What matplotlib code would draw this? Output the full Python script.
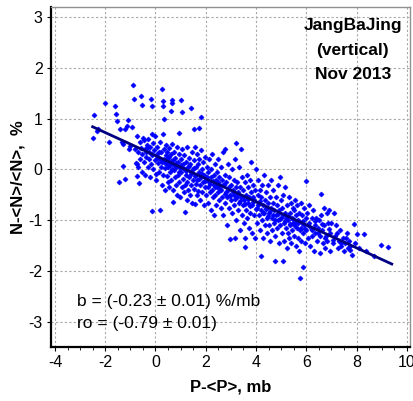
import matplotlib
matplotlib.use('Agg')
import matplotlib.pyplot as plt
from matplotlib.ticker import MultipleLocator

plt.rcParams['font.family'] = ['Liberation Sans', 'DejaVu Sans']
plt.rcParams['axes.unicode_minus'] = False

# scatter points (P-<P> in mb, N-<N>/<N> in %)
dp = [-2.50, -2.44, -2.34, -2.28, -2.01, -1.85, -1.62, -1.58, -1.52, -1.46, -1.40, -1.35, -1.28, -1.22, -1.21, -1.30, -1.15,
      -1.09, -1.02, -1.05, -0.91, -0.85, -0.92, -0.80, -0.78, -0.75, -0.74, -0.73, -0.70, -0.68, -0.65, -0.62, -0.60, -0.58, -0.56, -0.55, -0.55, -0.52,
      -0.48, -0.46, -0.45, -0.42, -0.40, -0.38, -0.36, -0.33, -0.30, -0.28, -0.26, -0.24, -0.22, -0.20, -0.18, -0.16, -0.15, -0.14, -0.13, -0.12, -0.10, -0.08, -0.05, -0.03, -0.02,
      0.02, 0.04, 0.07, 0.08, 0.11, 0.12, 0.15, 0.17, 0.18, 0.21, 0.22, 0.24, 0.26, 0.27, 0.28, 0.30, 0.31, 0.29, 0.33, 0.34, 0.35, 0.37, 0.38, 0.41, 0.42, 0.44, 0.45, 0.47, 0.48,
      0.50, 0.52, 0.54, 0.55, 0.57, 0.59, 0.60, 0.61, 0.62, 0.64, 0.65, 0.66, 0.67, 0.69, 0.70, 0.71, 0.72, 0.74, 0.77, 0.78, 0.80, 0.82, 0.84, 0.86, 0.88, 0.91, 0.92, 0.94, 0.95, 0.97, 0.98,
      1.00, 1.02, 1.03, 1.04, 1.06, 1.07, 1.09, 1.10, 1.12, 1.14, 1.16, 1.17, 1.19, 1.21, 1.22, 1.24, 1.25, 1.27, 1.29, 1.31, 1.32, 1.34, 1.36, 1.38, 1.40, 1.41, 1.42, 1.44, 1.46, 1.48,
      1.50, 1.52, 1.53, 1.54, 1.56, 1.57, 1.58, 1.61, 1.62, 1.64, 1.65, 1.67, 1.69, 1.70, 1.72, 1.73, 1.74, 1.76, 1.78, 1.80, 1.82, 1.83, 1.84, 1.86, 1.89, 1.90, 1.92, 1.94, 1.96, 1.98,
      2.00, 2.02, 2.04, 2.07, 2.08, 2.10, 2.12, 2.14, 2.16, 2.19, 2.20, 2.22, 2.24, 2.26, 2.28, 2.31, 2.32, 2.34, 2.36, 2.38, 2.40, 2.42, 2.44, 2.46, 2.48,
      2.50, 2.52, 2.54, 2.56, 2.59, 2.60, 2.62, 2.64, 2.66, 2.68, 2.70, 2.72, 2.75, 2.76, 2.78, 2.80, 2.82, 2.84, 2.86, 2.88, 2.91, 2.92, 2.94, 2.95, 2.97,
      3.00, 3.02, 3.04, 3.06, 3.08, 3.11, 3.12, 3.14, 3.15, 3.17, 3.19, 3.21, 3.22, 3.24, 3.26, 3.28, 3.30, 3.32, 3.34, 3.37, 3.38, 3.40, 3.42, 3.44, 3.46, 3.48,
      3.50, 3.52, 3.54, 3.55, 3.56, 3.57, 3.59, 3.61, 3.63, 3.65, 3.67, 3.69, 3.71, 3.73, 3.75, 3.77, 3.79, 3.81, 3.83, 3.85, 3.87, 3.89, 3.91, 3.93, 3.95, 3.97,
      4.00, 4.02, 4.04, 4.06, 4.08, 4.10, 4.12, 4.14, 4.16, 4.18, 4.19, 4.21, 4.23, 4.25, 4.27, 4.29, 4.31, 4.33, 4.35, 4.37, 4.39, 4.41, 4.43, 4.45, 4.47, 4.49,
      4.50, 4.52, 4.54, 4.56, 4.58, 4.60, 4.62, 4.64, 4.66, 4.68, 4.70, 4.72, 4.74, 4.76, 4.78, 4.80, 4.82, 4.84, 4.86, 4.88, 4.90, 4.92, 4.94, 4.96, 4.98,
      5.00, 5.02, 5.04, 5.07, 5.08, 5.10, 5.12, 5.14, 5.16, 5.18, 5.20, 5.22, 5.24, 5.26, 5.28, 5.30, 5.32, 5.34, 5.36, 5.38, 5.40, 5.42, 5.44, 5.46, 5.48,
      5.50, 5.52, 5.54, 5.56, 5.58, 5.60, 5.62, 5.64, 5.66, 5.68, 5.70, 5.72, 5.74, 5.76, 5.78, 5.80, 5.82, 5.84, 5.87, 5.88, 5.90, 5.92, 5.94, 5.97, 5.98,
      6.00, 6.03, 6.06, 6.09, 6.12, 6.15, 6.18, 6.21, 6.24, 6.27, 6.30, 6.33, 6.36, 6.39, 6.42, 6.45,
      6.50, 6.53, 6.55, 6.57, 6.60, 6.63, 6.66, 6.69, 6.72, 6.75, 6.78, 6.81, 6.84, 6.87, 6.90, 6.93, 6.96,
      7.00, 7.05, 7.10, 7.15, 7.20, 7.25, 7.30, 7.35, 7.40, 7.45, 7.50, 7.55, 7.60, 7.65, 7.70, 7.75, 7.83, 7.89, 7.95,
      8.03, 8.10, 8.28, 8.36, 8.70, 8.98, 9.25]

dn = [0.61, 1.07, 0.75, 0.80, 1.31, 0.55, 1.24, 1.10, 0.95, -0.25, 0.80, 0.55, 0.07, -0.18, 0.79, 0.50, 0.85,
      0.97, 0.46, 0.40, 1.66, 1.39, 0.84, 0.40, 0.12, 0.65, 0.11, -0.13, 0.05, 0.35, -0.27, 0.55, 0.20, 0.42, 1.44, 1.26, -0.05, 0.30,
      0.62, 0.57, 0.15, 0.40, -0.10, 0.25, 0.34, 0.48, 0.05, 0.60, 0.20, 0.35, -0.15, 0.45, 0.10, 1.39, 0.70, 0.28, 1.24, -0.82, 0.52, 0.00, 0.38, 0.18, 0.65,
      -0.20, -0.08, 0.30, 0.45, 0.12, -0.05, 0.22, -0.79, 0.55, 0.05, 0.35, -0.30, 1.59, 0.15, 1.24, 1.34, 0.70, -0.10, 0.40, 1.00, 0.20, 0.02, -0.40, 0.28, 0.48, -0.12, 0.10, 0.35, -0.25,
      0.05, 0.25, -0.35, 0.42, 0.12, -0.05, 1.16, 0.30, -0.20, 1.36, 0.00, 1.31, 0.50, 0.18, -0.64, -0.40, 0.08, 0.35, -0.15, 0.22, -0.30, 0.05, 0.45, -0.50, 0.15, -0.10, 0.30, 0.72, -0.25, 0.02, -0.55,
      0.20, -0.05, 1.36, -0.35, 0.40, 1.13, 0.10, -0.18, -0.45, 0.28, 0.00, -0.30, -0.84, 0.15, -0.10, -0.60, 0.45, -0.25, 0.05, -0.40, 0.22, -0.15, -0.50, 0.10, 1.21, -0.30, -0.05, 0.35, -0.65, -0.20,
      0.00, 0.80, -0.38, 0.18, -0.67, -0.12, 0.45, -0.28, 0.05, -0.50, 0.30, -0.20, 0.10, -0.42, 0.82, -0.05, 0.20, -0.60, -0.30, 0.38, -0.15, 1.03, 0.00, -0.45, -0.25, 0.15, -0.70, -0.10, -0.35, 0.25,
      -0.20, -0.50, 0.05, -0.35, -0.05, -0.65, 0.20, -0.25, -0.45, 0.00, -0.80, -0.15, -0.40, 0.30, -0.55, -0.10, -0.30, -0.90, 0.10, -0.50, -0.20, -0.70, -0.05, -0.35, 0.20,
      -0.45, -0.15, -0.60, -0.30, 0.05, -0.75, -0.40, -0.20, -0.55, 0.35, -0.90, -0.30, -0.10, -0.65, 0.40, -0.45, -0.25, -1.10, -0.55, 0.10, -0.35, -0.75, -0.15, -1.36, -0.50,
      -0.30, -0.60, 0.00, -0.85, -0.40, -0.20, -0.70, -0.50, -1.34, 0.20, -0.35, -1.00, 0.52, -0.55, -0.25, -0.80, -0.45, 0.05, -0.65, -1.20, -0.35, -0.55, 0.40, -0.90, -0.15, -0.70,
      -0.40, -1.05, -0.60, -1.34, -1.52, -0.25, -0.80, -0.50, -0.10, -0.95, -0.65, -0.35, -1.15, -0.55, -0.20, -0.85, -0.45, 0.15, -0.70, -1.25, -0.55, -0.30, -0.90, -0.60, -1.34, -0.40,
      0.00, -0.75, -1.05, -0.50, -0.20, -0.90, -0.65, -1.20, -0.40, -0.80, -1.71, -0.55, -1.00, -0.30, -0.70, -1.35, -0.85, -0.10, -0.60, -1.10, -0.75, -0.45, -0.95, -1.25, -0.65, -0.30,
      -0.85, -1.10, -0.55, -1.40, -0.75, -0.20, -0.95, -1.20, -0.65, -0.40, -1.05, -0.80, -1.80, -1.30, -0.55, -0.90, -1.15, -0.70, -0.30, -1.00, -1.45, -0.80, -0.15, -1.10, -0.60,
      -0.95, -1.25, -0.75, -1.80, -0.50, -1.05, -1.40, -0.85, -0.35, -1.15, -0.95, -1.55, -0.70, -1.25, -1.00, -0.55, -1.35, -0.85, -1.10, -0.65, -1.45, -0.95, -1.20, -0.75, -1.05,
      -0.80, -1.30, -1.05, -0.60, -1.50, -0.90, -1.15, -0.70, -1.35, -1.00, -1.60, -0.85, -2.13, -1.20, -0.65, -1.40, -1.05, -0.90, -1.92, -1.25, -0.75, -1.10, -1.45, -0.23, -0.95,
      -1.20, -0.85, -1.35, -1.05, -0.70, -1.50, -1.15, -0.95, -1.30, -0.80, -1.60, -1.10, -1.25, -0.95, -1.40, -1.15,
      -1.00, -1.65, -1.30, -0.48, -0.90, -1.20, -1.45, -0.75, -1.10, -1.55, -1.30, -0.85, -1.40, -1.05, -0.80, -1.60, -1.25,
      -1.05, -1.45, -0.85, -1.30, -1.10, -1.55, -1.40, -1.20, -1.50, -1.35, -1.60, -1.45, -1.25, -1.55, -1.40, -1.50, -1.69, -1.07, -1.45,
      -1.26, -1.55, -1.26, -1.60, -1.70, -1.49, -1.53]

# extra points in the dense core close to the fit line
dp_core = [-0.35, -0.12, 0.05, 0.13, 0.23, 0.36, 0.46, 0.58, 0.63, 0.73, 0.83, 0.93, 1.01, 1.11, 1.23, 1.33, 1.43, 1.55,
           1.63, 1.75, 1.85, 1.95, 2.05, 2.15, 2.27, 2.37, 2.47, 2.57, 2.67, 2.77, 2.87, 2.98, 3.07, 3.18, 3.27, 3.38,
           3.47, 3.58, 3.68, 3.78, 3.88, 3.98, 4.07, 4.17, 4.28, 4.38, 4.48, 4.57, 4.67, 4.77, 4.87, 4.97, 5.06, 5.17,
           5.27, 5.37, 5.47, 5.57, 5.67, 5.77, 5.86, 5.96, 6.08, 6.22, 6.35, 6.48, 6.62, 6.76, 6.92, 7.08, 7.22, 7.38,
           7.56, 7.72]
dn_core = [0.42, 0.31, 0.22, 0.35, 0.18, 0.12, 0.21, 0.08, 0.16, -0.02, 0.12, -0.05, 0.08, 0.02, -0.03, 0.06, -0.08, 0.02,
           -0.10, -0.18, -0.08, -0.22, -0.15, -0.28, -0.22, -0.35, -0.25, -0.38, -0.30, -0.48, -0.40, -0.52, -0.45, -0.58, -0.48, -0.62,
           -0.55, -0.68, -0.58, -0.72, -0.64, -0.78, -0.70, -0.62, -0.85, -0.78, -0.92, -0.82, -0.90, -1.00, -0.88, -0.98, -0.90, -1.02,
           -0.92, -1.08, -0.98, -1.12, -1.05, -1.15, -1.02, -1.18, -1.10, -1.20, -1.02, -1.25, -1.08, -1.35, -1.18, -1.38, -1.25, -1.45,
           -1.35, -1.58]

# regression line end points
fit_p = [-2.5, 9.4]
fit_n = [0.84, -1.86]

station = ['JangBaJing', '(vertical)', 'Nov 2013']
fit_text = ['b = (-0.23 \u00b1 0.01) %/mb', 'ro = (-0.79 \u00b1 0.01)']

fig = plt.figure(figsize=(4.14, 4.01), dpi=100)
ax = fig.add_axes([0.123, 0.135, 0.867, 0.848])

ax.plot(dp + dp_core, dn + dn_core, linestyle='none', marker='D', ms=2.6, color='#0000ff',
        mec='#0000ff', mew=0.4, zorder=3)
ax.plot(fit_p, fit_n, color='#000080', lw=2.0, zorder=4)

ax.set_xlim(-4.16, 10.12)
ax.set_ylim(-3.49, 3.2)
ax.xaxis.set_major_locator(MultipleLocator(2))
ax.xaxis.set_minor_locator(MultipleLocator(0.5))
ax.yaxis.set_major_locator(MultipleLocator(1))
ax.grid(True, which='major', color='#a8a8a8', linestyle=(0, (2, 2)), lw=0.8)
ax.set_axisbelow(True)

for s in ['left', 'bottom']:
    ax.spines[s].set_linewidth(1.6)
    ax.spines[s].set_color('black')
for s in ['top', 'right']:
    ax.spines[s].set_linewidth(1.0)
    ax.spines[s].set_color('#909090')

ax.tick_params(which='major', direction='out', length=3, width=0.8, labelsize=11.5, pad=3)
ax.tick_params(which='minor', direction='out', length=2, width=0.6)

ax.set_xlabel('P-<P>, mb', fontsize=12, fontweight='bold')
ax.set_ylabel('N-<N>/<N>,  %', fontsize=12, fontweight='bold')
ax.xaxis.set_label_coords(0.5, -0.095)
ax.yaxis.set_label_coords(-0.072, 0.5)

for i, line in enumerate(station):
    ax.text(0.841, [0.946, 0.873, 0.802][i], line, transform=ax.transAxes,
            ha='center', va='center', fontsize=12.5, fontweight='bold')
for i, line in enumerate(fit_text):
    ax.text(0.073, [0.132, 0.069][i], line, transform=ax.transAxes,
            ha='left', va='center', fontsize=12.5)

fig.savefig('out.png', dpi=100)
